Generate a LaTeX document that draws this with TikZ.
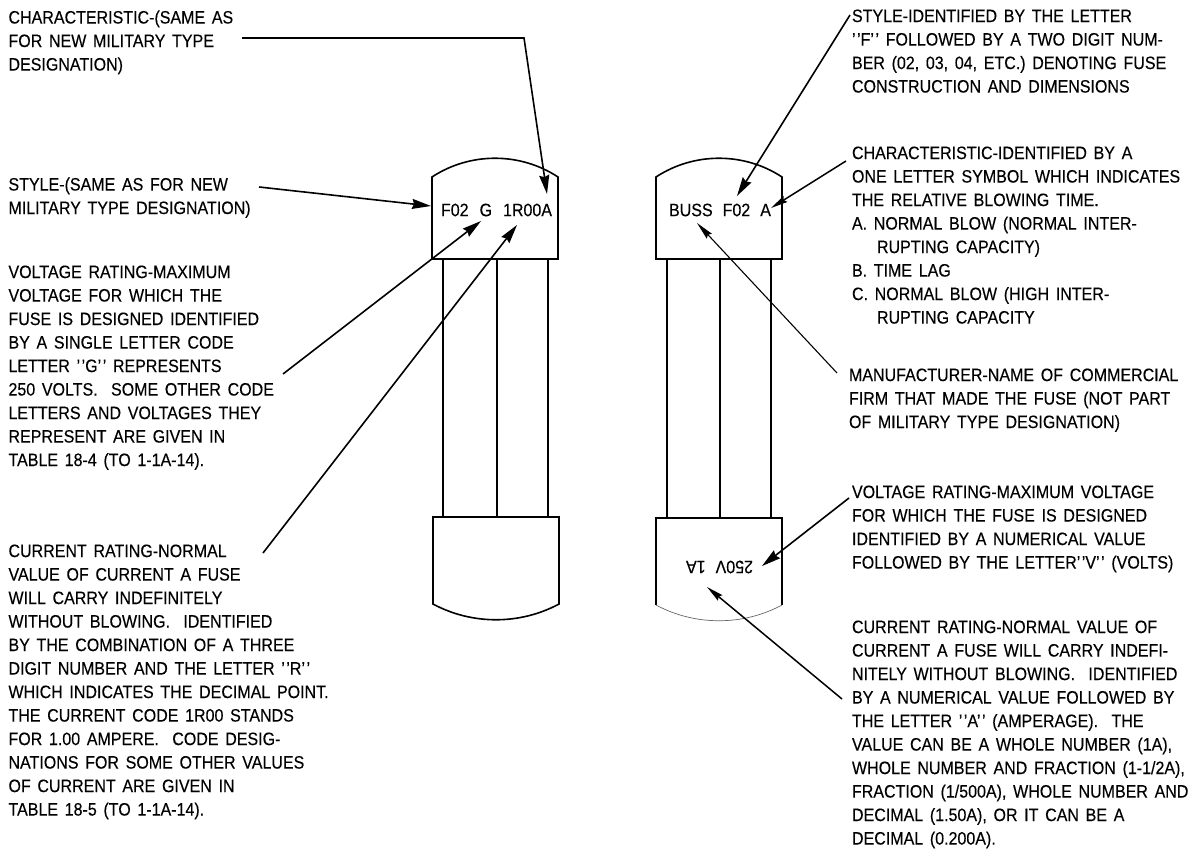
\documentclass[tikz,border=0pt]{standalone}
\usepackage{fontspec}
\setmainfont[FakeStretch=0.89,FakeBold=0.25,WordSpace=1.5,Ligatures=ResetAll]{Liberation Sans}
\usetikzlibrary{arrows.meta}
\newcommand{\qqm}{'\kern1.5pt'}
\tikzset{
  lbl/.style={anchor=north west,align=left,inner sep=0pt,outer sep=0pt,font=\fontsize{18pt}{23.5pt}\selectfont,execute at begin node={\rule{0pt}{14pt}}},
  fusetxt/.style={inner sep=0pt,font=\fontsize{18pt}{20pt}\selectfont},
  fuseline/.style={line width=1.6pt,draw=black},
  lead/.style={line width=1.6pt,-{Stealth[length=19pt,width=10pt,inset=2pt]}},
  leadnarrow/.style={line width=1.5pt,-{Stealth[length=17pt,width=7pt,inset=2pt]}},
  leadthin/.style={line width=1.1pt,-{Stealth[length=18pt,width=7pt,inset=2pt]}}
}
\begin{document}
\begin{tikzpicture}[x=1pt,y=-1pt]
\useasboundingbox (0,0) rectangle (1201,848);
% left labels
\node[lbl] (t1) at (8.5,10.5) {CHARACTERISTIC-(SAME AS\\FOR NEW MILITARY TYPE\\DESIGNATION)};
\node[lbl] (t2) at (8.5,177.5) {STYLE-(SAME AS FOR NEW\\MILITARY TYPE DESIGNATION)};
\node[lbl] (t3) at (8.5,265.5) {VOLTAGE RATING-MAXIMUM\\VOLTAGE FOR WHICH THE\\FUSE IS DESIGNED IDENTIFIED\\BY A SINGLE LETTER CODE\\LETTER \qqm G\qqm{} REPRESENTS\\250 VOLTS.~ SOME OTHER CODE\\LETTERS AND VOLTAGES THEY\\REPRESENT ARE GIVEN IN\\TABLE 18-4 (TO 1-1A-14).};
\node[lbl] (t4) at (8.5,544.5) {CURRENT RATING-NORMAL\\VALUE OF CURRENT A FUSE\\WILL CARRY INDEFINITELY\\WITHOUT BLOWING.~ IDENTIFIED\\BY THE COMBINATION OF A THREE\\DIGIT NUMBER AND THE LETTER \qqm R\qqm\\WHICH INDICATES THE DECIMAL POINT.\\THE CURRENT CODE 1R00 STANDS\\FOR 1.00 AMPERE.~ CODE DESIG-\\NATIONS FOR SOME OTHER VALUES\\OF CURRENT ARE GIVEN IN\\TABLE 18-5 (TO 1-1A-14).};
% right labels
\node[lbl] (t5) at (852,9.5) {STYLE-IDENTIFIED BY THE LETTER\\\qqm F\qqm{} FOLLOWED BY A TWO DIGIT NUM-\\BER (02, 03, 04, ETC.) DENOTING FUSE\\CONSTRUCTION AND DIMENSIONS};
\node[lbl] (t6) at (852,146.5) {CHARACTERISTIC-IDENTIFIED BY A\\ONE LETTER SYMBOL WHICH INDICATES\\THE RELATIVE BLOWING TIME.\\A. NORMAL BLOW (NORMAL INTER-\\\hspace*{25pt}RUPTING CAPACITY)\\B. TIME LAG\\C. NORMAL BLOW (HIGH INTER-\\\hspace*{25pt}RUPTING CAPACITY};
\node[lbl] (t7) at (849,368.5) {MANUFACTURER-NAME OF COMMERCIAL\\FIRM THAT MADE THE FUSE (NOT PART\\OF MILITARY TYPE DESIGNATION)};
\node[lbl] (t8) at (852,485.5) {VOLTAGE RATING-MAXIMUM VOLTAGE\\FOR WHICH THE FUSE IS DESIGNED\\IDENTIFIED BY A NUMERICAL VALUE\\FOLLOWED BY THE LETTER\qqm V\qqm{} (VOLTS)};
\node[lbl] (t9) at (852,620.5) {CURRENT RATING-NORMAL VALUE OF\\CURRENT A FUSE WILL CARRY INDEFI-\\NITELY WITHOUT BLOWING.~ IDENTIFIED\\BY A NUMERICAL VALUE FOLLOWED BY\\THE LETTER \qqm A\qqm{} (AMPERAGE).~ THE\\VALUE CAN BE A WHOLE NUMBER (1A),\\WHOLE NUMBER AND FRACTION (1-1/2A),\\FRACTION (1/500A), WHOLE NUMBER AND\\DECIMAL (1.50A), OR IT CAN BE A\\DECIMAL (0.200A).};
% left fuse
\draw[fuseline] (432,259) -- (432,177) .. controls (470,152) and (520,152) .. (558,177) -- (558,259) -- cycle;
\draw[fuseline] (443,259) -- (443,517) (497,259) -- (497,517) (548,259) -- (548,517);
\draw[fuseline] (433,517) -- (559,517) -- (559,604) .. controls (520,625) and (472,625) .. (433,604) -- cycle;
% right fuse
\draw[fuseline] (656,259) -- (656,177) .. controls (694,152) and (744,152) .. (782,177) -- (782,259) -- cycle;
\draw[fuseline] (667,259) -- (667,518) (720,259) -- (720,518) (771,259) -- (771,518);
\draw[fuseline] (656,605) -- (656,518) -- (782,518) -- (782,605);
\draw[line width=0.7pt,draw=black!60] (656,605) .. controls (695,626) and (743,626) .. (782,605);
% fuse texts
\node[fusetxt] (f1) at (496.5,210) {F02\hspace{11pt}G\hspace{11pt}1R00A};
\node[fusetxt] (f2) at (720,210) {BUSS\hspace{10pt}F02\hspace{10pt}A};
\node[fusetxt,rotate=180] (f3) at (719.5,567) {250V\hspace{10pt}1A};
% leader points
\coordinate (a1s) at (242,38); \coordinate (a1k) at (524,38); \coordinate (a1t) at (547,194);
\coordinate (a2s) at (259,187); \coordinate (a2t) at (431,206);
\coordinate (a3s) at (283,374); \coordinate (a3t) at (481,221);
\coordinate (a4s) at (263,553); \coordinate (a4t) at (517,225);
\coordinate (b1s) at (850,15); \coordinate (b1t) at (737,196);
\coordinate (b2s) at (846,161); \coordinate (b2t) at (771,208);
\coordinate (b3s) at (837,373); \coordinate (b3t) at (697,223);
\coordinate (b4s) at (849,498); \coordinate (b4t) at (762,566);
\coordinate (b5s) at (842,699); \coordinate (b5t) at (707,587);
\draw[lead] (a1s) -- (a1k) -- (a1t);
\draw[lead] (a2s) -- (a2t);
\draw[lead] (a3s) -- (a3t);
\draw[lead] (a4s) -- (a4t);
\draw[lead] (b1s) -- (b1t);
\draw[leadnarrow] (b2s) -- (b2t);
\draw[leadthin] (b3s) -- (b3t);
\draw[lead] (b4s) -- (b4t);
\draw[leadnarrow] (b5s) -- (b5t);
\end{tikzpicture}
\end{document}
